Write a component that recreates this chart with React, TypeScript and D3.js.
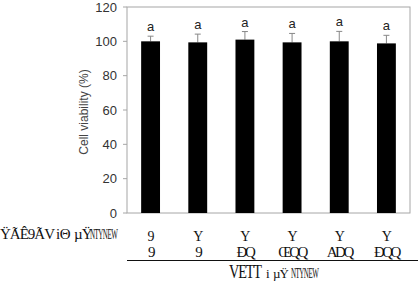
import React from "react";
import * as d3 from "d3";

const groups = ["g1", "g2", "g3", "g4", "g5", "g6"];
const viability = [100, 99.4, 101, 99.4, 100, 98.8];
const errors = [3, 4.8, 4.7, 5.2, 5.8, 4.7];
const letters = ["a", "a", "a", "a", "a", "a"];
const row1 = ["9", "Y", "Y", "Y", "Y", "Y"];
const row2 = ["9", "9", "ĐQ", "ŒQQ", "ADQ", "ĐQQ"];
const yTicks = [0, 20, 40, 60, 80, 100, 120];

export default function App() {
  const W = 418, H = 283;
  const left = 127, right = 410, top = 7, bottom = 213;
  const x = d3.scaleBand().domain(groups).range([left, right]).paddingInner(0.6).paddingOuter(0.3);
  const y = d3.scaleLinear().domain([0, 120]).range([bottom, top]);
  const sans = "Liberation Sans, Arial, sans-serif";
  const serif = "Liberation Serif, Times New Roman, serif";
  return (
    <svg width={W} height={H} style={{ position: "absolute", left: 0, top: 0, background: "#fff" }}>
      <rect x={left} y={top} width={right - left} height={bottom - top} fill="none" stroke="#a6a6a6" strokeWidth={1} />
      {yTicks.map((t) => (
        <g key={t}>
          <line x1={left - 4} x2={left} y1={y(t)} y2={y(t)} stroke="#a6a6a6" />
          <text x={117} y={y(t)} dy="0.35em" textAnchor="end" fontFamily={sans} fontSize={13} fill="#333">{t}</text>
        </g>
      ))}
      <text transform={`translate(88,112) rotate(-90)`} textAnchor="middle" fontFamily={sans} fontSize={12} fill="#444">Cell viability (%)</text>
      {groups.map((g, i) => {
        const cx = x(g)! + x.bandwidth() / 2;
        const eTop = y(viability[i] + errors[i]);
        return (
          <g key={g}>
            <line x1={cx} x2={cx} y1={y(viability[i])} y2={eTop} stroke="#888" strokeWidth={1} />
            <line x1={cx - 3} x2={cx + 3} y1={eTop} y2={eTop} stroke="#888" strokeWidth={1} />
            <rect x={x(g)} y={y(viability[i])} width={x.bandwidth()} height={bottom - y(viability[i])} fill="#000" />
            <text x={cx} y={eTop - 5} textAnchor="middle" fontFamily={sans} fontSize={13} fill="#222">{letters[i]}</text>
            <text x={cx} y={241} textAnchor="middle" fontFamily={serif} fontSize={14} fill="#111" letterSpacing={-1}>{row1[i]}</text>
            <text x={cx} y={257} textAnchor="middle" fontFamily={serif} fontSize={15} fill="#111" letterSpacing={-2.5}>{row2[i]}</text>
          </g>
        );
      })}
      <text x={0} y={239} fontFamily={serif} fontSize={15} fill="#111" letterSpacing={-1}>ŸÃÊ9ÃV</text>
      <text x={56} y={239} fontFamily={serif} fontSize={15} fill="#111" letterSpacing={-0.5}>iΘ</text>
      <text x={74} y={239} fontFamily={serif} fontSize={15} fill="#111" letterSpacing={-1}>µŸ</text>
      <text transform="translate(90,239) scale(0.5,1)" fontFamily={serif} fontSize={14} fill="#111" letterSpacing={-1}>NTYNEW</text>
      <line x1={127} x2={418} y1={260.5} y2={260.5} stroke="#111" strokeWidth={1} />
      <text transform="translate(229,277.5) scale(0.75,1)" fontFamily={serif} fontSize={19} fill="#111" letterSpacing={-1.5}>VETT</text>
      <text x={266} y={277.5} fontFamily={serif} fontSize={13} fill="#111">i</text>
      <text x={273} y={277.5} fontFamily={serif} fontSize={13} fill="#111" letterSpacing={-1}>µŸ</text>
      <text transform="translate(291,277.5) scale(0.5,1)" fontFamily={serif} fontSize={14} fill="#111" letterSpacing={-1}>NTYNEW</text>
    </svg>
  );
}
